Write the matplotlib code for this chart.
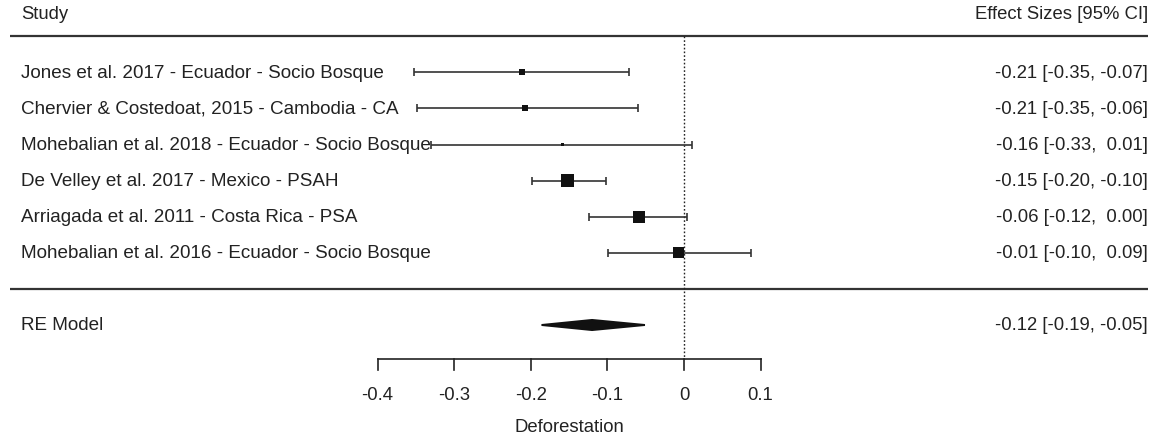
import matplotlib
matplotlib.use('Agg')
import matplotlib.pyplot as plt
import numpy as np

plt.rcParams['font.family'] = ['Liberation Sans', 'DejaVu Sans']

# ---- data ----
studies = [
    "Jones et al. 2017 - Ecuador - Socio Bosque",
    "Chervier & Costedoat, 2015 - Cambodia - CA",
    "Mohebalian et al. 2018 - Ecuador - Socio Bosque",
    "De Velley et al. 2017 - Mexico - PSAH",
    "Arriagada et al. 2011 - Costa Rica - PSA",
    "Mohebalian et al. 2016 - Ecuador - Socio Bosque",
]
estimates = [-0.212, -0.207, -0.159, -0.152, -0.059, -0.007]
ci_low = [-0.353, -0.348, -0.330, -0.199, -0.124, -0.099]
ci_high = [-0.072, -0.060, 0.010, -0.102, 0.004, 0.087]
weights = [6.0, 6.0, 3.0, 12.3, 11.7, 10.7]   # relative study weights (box size)
re_label = "RE Model"
re_est, re_low, re_high = -0.120, -0.186, -0.051
xticks = [-0.4, -0.3, -0.2, -0.1, 0.0, 0.1]
xtick_labels = ["-0.4", "-0.3", "-0.2", "-0.1", "0", "0.1"]
xlabel = "Deforestation"
header_left = "Study"
header_right = "Effect Sizes [95% CI]"

# ---- figure ----
W, H, DPI = 1155, 439, 100
fig = plt.figure(figsize=(W / DPI, H / DPI), dpi=DPI)
ax = fig.add_axes([0, 0, 1, 1])
ax.axis('off')

px_per_unit = 766.0
x0_px = 684.0
ax.set_xlim(-x0_px / px_per_unit, (W - x0_px) / px_per_unit)
row_px = 36.1
row0_px = 73.3
ax.set_ylim((H - row0_px) / row_px, -row0_px / row_px)

def px2x(p):
    return (p - x0_px) / px_per_unit

FS = 13.3
FS_L = 13.6
tc = '#222222'
lc = '#333333'
x_left = px2x(21)
x_right = px2x(1148)
line_l, line_r = px2x(10), px2x(1148)

n = len(studies)
rows = np.arange(n)

# headers and separator lines
ax.text(x_left, -1.64, header_left, ha='left', va='center', fontsize=FS, color=tc)
ax.text(x_right, -1.64, header_right, ha='right', va='center', fontsize=FS, color=tc)
ax.plot([line_l, line_r], [-1, -1], color=lc, lw=1.6, solid_capstyle='butt')
ax.plot([line_l, line_r], [n, n], color=lc, lw=1.6, solid_capstyle='butt')

# reference line at 0
axis_y = 7.94
ax.plot([0, 0], [-1, axis_y], color='#222222', lw=1.0, ls=(0, (1.2, 1.5)))

# studies
for i in range(n):
    ax.text(x_left, rows[i], studies[i], ha='left', va='center', fontsize=FS_L, color=tc)
    lab = f"{estimates[i]:.2f} [{ci_low[i]:.2f}, {ci_high[i]:5.2f}]"
    ax.text(x_right, rows[i], lab, ha='right', va='center', fontsize=FS, color=tc)

ax.errorbar(estimates, rows,
            xerr=[np.array(estimates) - np.array(ci_low), np.array(ci_high) - np.array(estimates)],
            fmt='none', ecolor='#333333', elinewidth=1.2, capsize=3, capthick=1.2)
side_pt = np.array(weights) * 72.0 / DPI
ax.scatter(estimates, rows, marker='s', s=side_pt ** 2, color='#111111', zorder=5, linewidths=0)

# RE model diamond
re_row = n + 1
hh = 0.14
ax.fill([re_low, re_est, re_high, re_est], [re_row, re_row - hh, re_row, re_row + hh],
        color='#111111', lw=1.4, ec='#111111')
ax.text(x_left, re_row, re_label, ha='left', va='center', fontsize=FS_L, color=tc)
ax.text(x_right, re_row, f"{re_est:.2f} [{re_low:.2f}, {re_high:.2f}]",
        ha='right', va='center', fontsize=FS, color=tc)

# x axis
ax.plot([xticks[0], xticks[-1]], [axis_y, axis_y], color='#222222', lw=1.2)
for xt, lb in zip(xticks, xtick_labels):
    ax.plot([xt, xt], [axis_y, axis_y + 0.32], color='#222222', lw=1.2)
    ax.text(xt, 8.93, lb, ha='center', va='center', fontsize=FS, color=tc)
ax.text((xticks[0] + xticks[-1]) / 2, 9.82, xlabel, ha='center', va='center', fontsize=FS, color=tc)

fig.savefig('out.png', dpi=DPI, facecolor='white')
